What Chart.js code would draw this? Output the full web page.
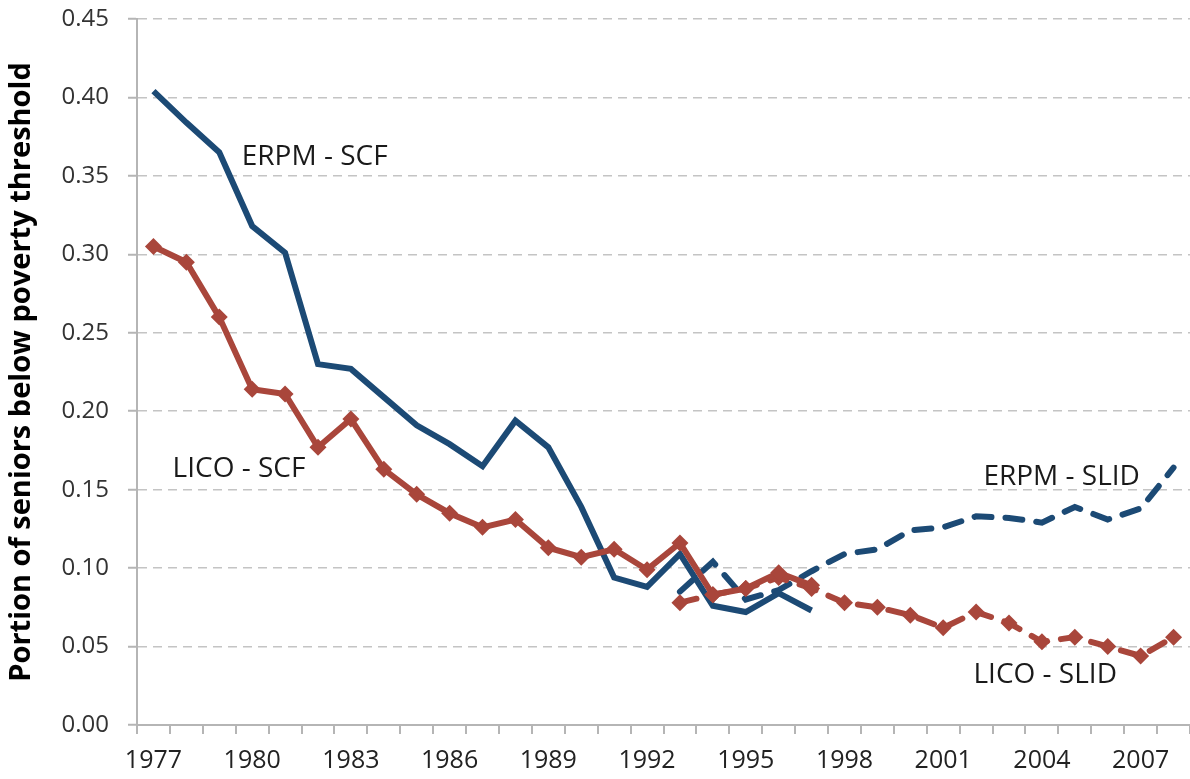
<!DOCTYPE html>
<html>
<head>
<meta charset="utf-8">
<script src="https://cdn.jsdelivr.net/npm/chart.js@4"></script>
<style>
  html, body { margin: 0; padding: 0; background: #fff; }
  #chart { display: block; }
</style>
</head>
<body>
<canvas id="chart" width="1190" height="779"></canvas>
<script>
// Years on the x axis
const years = ['1977', '1978', '1979', '1980', '1981', '1982', '1983', '1984', '1985', '1986',
    '1987', '1988', '1989', '1990', '1991', '1992', '1993', '1994', '1995', '1996',
    '1997', '1998', '1999', '2000', '2001', '2002', '2003', '2004', '2005', '2006',
    '2007', '2008'];

// SCF series cover 1977-1997, SLID series 1993-2008 (null = no value)
const erpmScf = [0.404, 0.384, 0.365, 0.318, 0.301, 0.230, 0.227, 0.209, 0.191, 0.179,
    0.165, 0.194, 0.177, 0.139, 0.094, 0.088, 0.109, 0.076, 0.072, 0.084,
    0.073, null, null, null, null, null, null, null, null, null, null, null];
const licoScf = [0.305, 0.295, 0.260, 0.214, 0.211, 0.177, 0.195, 0.163, 0.147, 0.135,
    0.126, 0.131, 0.113, 0.107, 0.112, 0.099, 0.116, 0.083, 0.087, 0.097,
    0.089, null, null, null, null, null, null, null, null, null, null, null];
const erpmSlid = [null, null, null, null, null, null, null, null, null, null,
    null, null, null, null, null, null, 0.085, 0.104, 0.080, 0.086,
    0.098, 0.109, 0.112, 0.124, 0.126, 0.133, 0.132, 0.129, 0.139, 0.131,
    0.138, 0.164];
const licoSlid = [null, null, null, null, null, null, null, null, null, null,
    null, null, null, null, null, null, 0.078, 0.083, 0.087, 0.094,
    0.087, 0.078, 0.075, 0.070, 0.062, 0.072, 0.065, 0.053, 0.056, 0.050,
    0.044, 0.056];

// Y axis range and step
const yMin = 0;
const yMax = 0.45;
const yStep = 0.05;

// In-chart series labels (anchored at year index / value)
const labelTexts = ['ERPM - SCF', 'LICO - SCF', 'ERPM - SLID', 'LICO - SLID'];
const labelYears = [4.9, 2.6, 27.6, 27.1];
const labelValues = [0.362, 0.163, 0.158, 0.032];

const blue = '#1c4a75';
const red = '#a9463b';

// Draws the series names inside the plot
const seriesLabels = {
    id: 'seriesLabels',
    afterDatasetsDraw(chart) {
        const ctx = chart.ctx;
        const x = chart.scales.x;
        const y = chart.scales.y;
        ctx.save();
        ctx.font = '28px "Open Sans"';
        ctx.fillStyle = '#1a1a1a';
        ctx.textAlign = 'center';
        ctx.textBaseline = 'middle';
        labelTexts.forEach((t, i) => {
            ctx.fillText(t, x.getPixelForValue(labelYears[i]), y.getPixelForValue(labelValues[i]));
        });
        ctx.restore();
    }
};

new Chart(document.getElementById('chart').getContext('2d'), {
    type: 'line',
    data: {
        labels: years,
        datasets: [
            {
                label: 'LICO - SCF',
                data: licoScf,
                borderColor: red,
                backgroundColor: red,
                borderWidth: 6,
                pointStyle: 'rectRot',
                pointRadius: 8.5,
                pointBorderWidth: 0,
                tension: 0
            },
            {
                label: 'LICO - SLID',
                data: licoSlid,
                borderColor: red,
                backgroundColor: red,
                borderWidth: 6,
                borderDash: [17, 14],
                borderCapStyle: 'round',
                pointStyle: 'rectRot',
                pointRadius: 8.5,
                pointBorderWidth: 0,
                tension: 0
            },
            {
                label: 'ERPM - SCF',
                data: erpmScf,
                borderColor: blue,
                borderWidth: 6,
                pointRadius: 0,
                tension: 0
            },
            {
                label: 'ERPM - SLID',
                data: erpmSlid,
                borderColor: blue,
                borderWidth: 6,
                borderDash: [17, 14],
                borderCapStyle: 'round',
                pointRadius: 0,
                tension: 0
            }
        ]
    },
    options: {
        responsive: false,
        animation: false,
        spanGaps: false,
        layout: { padding: 0, autoPadding: false },
        plugins: {
            legend: { display: false },
            tooltip: { enabled: false }
        },
        scales: {
            x: {
                offset: true,
                grid: {
                    offset: true,
                    drawOnChartArea: false,
                    tickLength: 9,
                    color: '#b5b5b5',
                    lineWidth: 2
                },
                border: { color: '#b5b5b5', width: 2 },
                ticks: {
                    autoSkip: false,
                    maxRotation: 0,
                    padding: 12,
                    color: '#222',
                    font: { family: 'Open Sans', size: 25 },
                    callback: function(value, index) {
                        return index % 3 === 0 ? years[index] : '';
                    }
                },
                afterFit: function(scale) {
                    scale.height = 54;
                    scale.paddingRight = 0;
                }
            },
            y: {
                min: yMin,
                max: yMax,
                grid: {
                    color: '#c4c4c4',
                    lineWidth: 1.5,
                    tickLength: 9,
                    tickColor: '#b5b5b5',
                    tickWidth: 2
                },
                border: { color: '#b5b5b5', width: 2, dash: [9, 6] },
                ticks: {
                    stepSize: yStep,
                    padding: 19,
                    color: '#333',
                    font: { family: 'Open Sans', size: 24 },
                    callback: function(value) { return value.toFixed(2); }
                },
                title: {
                    display: true,
                    text: 'Portion of seniors below poverty threshold',
                    color: '#000',
                    font: { family: 'Open Sans', size: 29, weight: 'bold' },
                    padding: { top: 4, bottom: 0 }
                },
                afterFit: function(scale) {
                    scale.width = 137;
                    scale.paddingTop = 19;
                }
            }
        }
    },
    plugins: [seriesLabels]
});
</script>
</body>
</html>
